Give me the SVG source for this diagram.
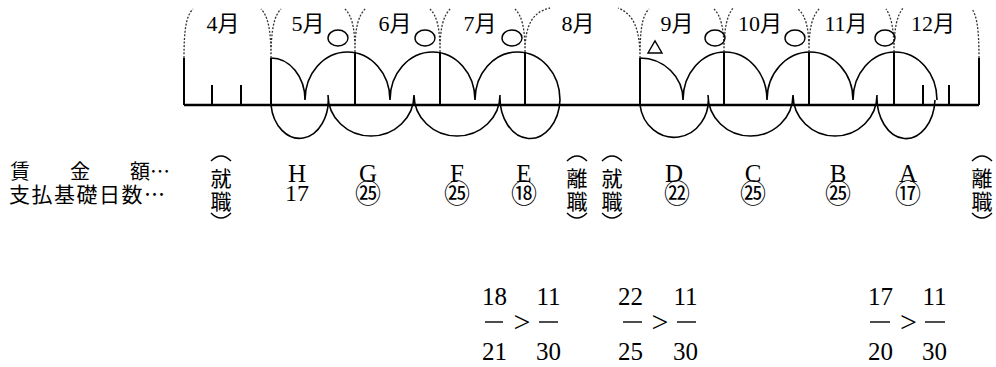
<svg xmlns="http://www.w3.org/2000/svg" width="996" height="367" viewBox="0 0 996 367">
<style>
.ln{stroke:#000;stroke-width:2;fill:none}
.base{stroke:#000;stroke-width:2.5;fill:none}
.arc{stroke:#000;stroke-width:1.6;fill:none}
.dot{stroke:#333;stroke-width:1.3;fill:none;stroke-dasharray:2 1.6}
.bar{stroke:#000;stroke-width:1.4}
.mark{stroke:#000;stroke-width:1.4;fill:none}
</style>

<g id="connectors">
  <path class="base" d="M184 105 H979"/>
  <path class="ln" d="M184 58 V105 M271 58 V105 M355 52 V105 M440 52 V105 M525 52 V105 M640 58 V105 M724 52 V105 M809 52 V105 M894 52 V105 M979 58 V105"/>
  <path class="ln" d="M212 85 V105 M241 85 V105 M923 85 V105 M949 85 V105"/>
  <path class="arc" d="M271 58 A34 42 0 0 1 305 100 M305 100 A42.5 48 0 0 1 390 100 M390 100 A42.5 48 0 0 1 475 100 M475 100 A42.5 48 0 0 1 560 100"/>
  <path class="arc" d="M271 105 A28.5 38 0 0 0 328 95 M328 95 A43 41 0 0 0 414 95 M414 95 A43 41 0 0 0 500 95 M500 95 A30 41 0 0 0 560 100"/>
  <path class="arc" d="M640 58 A43 42 0 0 1 683 100 M683 100 A42 48 0 0 1 767 100 M767 100 A43 48 0 0 1 853 100 M853 100 A42 48 0 0 1 937 100"/>
  <path class="arc" d="M640 105 A34 37 0 0 0 708 95 M708 95 A42.5 41 0 0 0 793 95 M793 95 A42 41 0 0 0 877 95 M877 95 A29 41 0 0 0 935 100"/>
  <path class="dot" d="M184 58 C184 30 186 16 193 9"/>
  <path class="dot" d="M271 58 C271 30 268 16 261 9 M271 58 C271 30 274 16 281 9"/>
  <path class="dot" d="M355 52 C355 28 352 16 345 9 M355 52 C355 28 358 16 366 8"/>
  <path class="dot" d="M440 52 C440 28 437 16 430 9 M440 52 C440 28 443 16 451 8"/>
  <path class="dot" d="M525 52 C525 28 522 16 515 9 M525 52 C525 26 532 12 550 8"/>
  <path class="dot" d="M640 58 C640 30 634 14 618 8 M640 58 C640 30 642 16 649 9"/>
  <path class="dot" d="M724 52 C724 28 721 16 714 9 M724 52 C724 28 727 16 733 8"/>
  <path class="dot" d="M809 52 C809 28 806 16 798 9 M809 52 C809 28 812 16 820 8"/>
  <path class="dot" d="M894 52 C894 28 891 16 886 9 M894 52 C894 28 897 16 903 8"/>
  <path class="dot" d="M979 58 C979 30 977 16 972 9"/>
</g>

<g id="months" font-family="'Liberation Serif','Noto Sans CJK JP',serif" font-size="22" fill="#000" text-anchor="middle">
  <text x="223" y="31">4月</text>
  <text x="308" y="31">5月</text>
  <text x="395" y="31">6月</text>
  <text x="480" y="31">7月</text>
  <text x="578" y="31">8月</text>
  <text x="677" y="31">9月</text>
  <text x="760" y="31">10月</text>
  <text x="846" y="31">11月</text>
  <text x="933" y="31">12月</text>
</g>

<g id="marks">
  <ellipse class="mark" cx="338" cy="38" rx="10" ry="8"/>
  <ellipse class="mark" cx="425" cy="38" rx="10" ry="8"/>
  <ellipse class="mark" cx="512" cy="38" rx="10" ry="8"/>
  <ellipse class="mark" cx="715" cy="38" rx="10" ry="8"/>
  <ellipse class="mark" cx="795" cy="38" rx="10" ry="8"/>
  <ellipse class="mark" cx="885" cy="38" rx="10" ry="8"/>
  <path class="mark" d="M648 53 L662 53 L655 41 Z"/>
</g>

<g id="row-labels" font-family="'Noto Sans CJK JP',sans-serif" font-size="20" fill="#000">
  <text x="10" y="179">賃　　金　　額…</text>
  <text x="9" y="202" font-size="21" textLength="156" lengthAdjust="spacing">支払基礎日数…</text>
</g>

<g id="wage-letters" font-family="'Liberation Serif',serif" font-size="25" fill="#000" text-anchor="middle">
  <text x="297" y="182">H</text>
  <text x="368" y="182">G</text>
  <text x="457" y="182">F</text>
  <text x="524" y="182">E</text>
  <text x="674" y="182">D</text>
  <text x="753" y="182">C</text>
  <text x="838" y="182">B</text>
  <text x="908" y="182">A</text>
</g>

<g id="days" fill="#000" text-anchor="middle">
  <text x="297" y="201" font-family="'Liberation Serif',serif" font-size="24">17</text>
  <g font-family="'Noto Sans CJK JP',sans-serif" font-size="26">
    <text x="368" y="203">㉕</text>
    <text x="457" y="203">㉕</text>
    <text x="524" y="203">⑱</text>
    <text x="677" y="203">㉒</text>
    <text x="753" y="203">㉕</text>
    <text x="838" y="203">㉕</text>
    <text x="908" y="203">⑰</text>
  </g>
</g>

<g id="job-events" font-family="'Noto Sans CJK JP',sans-serif" font-size="21" fill="#000" text-anchor="middle">
  <g id="join1">
    <path class="mark" d="M211 161 Q221 151 231 161"/>
    <text x="221" y="186">就</text>
    <text x="221" y="209">職</text>
    <path class="mark" d="M211 213 Q221 223 231 213"/>
  </g>
  <g id="leave1">
    <path class="mark" d="M567 161 Q577 151 587 161"/>
    <text x="577" y="186">離</text>
    <text x="577" y="209">職</text>
    <path class="mark" d="M567 213 Q577 223 587 213"/>
  </g>
  <g id="join2">
    <path class="mark" d="M602 161 Q612 151 622 161"/>
    <text x="612" y="186">就</text>
    <text x="612" y="209">職</text>
    <path class="mark" d="M602 213 Q612 223 622 213"/>
  </g>
  <g id="leave2">
    <path class="mark" d="M972 161 Q982 151 992 161"/>
    <text x="982" y="186">離</text>
    <text x="982" y="209">職</text>
    <path class="mark" d="M972 213 Q982 223 992 213"/>
  </g>
</g>

<g id="fractions" font-family="'Liberation Serif',serif" font-size="25" fill="#000" text-anchor="middle">
  <g id="frac1">
    <text x="494.5" y="305">18</text>
    <line class="bar" x1="485" y1="322" x2="503" y2="322"/>
    <text x="494.5" y="360">21</text>
    <text x="522" y="332" font-size="30">&gt;</text>
    <text x="548.5" y="305">11</text>
    <line class="bar" x1="539" y1="322" x2="558" y2="322"/>
    <text x="548.5" y="360">30</text>
  </g>
  <g id="frac2">
    <text x="630.5" y="305">22</text>
    <line class="bar" x1="623" y1="322" x2="642" y2="322"/>
    <text x="630.5" y="360">25</text>
    <text x="660" y="332" font-size="30">&gt;</text>
    <text x="685.5" y="305">11</text>
    <line class="bar" x1="677" y1="322" x2="696" y2="322"/>
    <text x="685.5" y="360">30</text>
  </g>
  <g id="frac3">
    <text x="880.5" y="305">17</text>
    <line class="bar" x1="870" y1="322" x2="890" y2="322"/>
    <text x="880.5" y="360">20</text>
    <text x="908.5" y="332" font-size="30">&gt;</text>
    <text x="934.5" y="305">11</text>
    <line class="bar" x1="925" y1="322" x2="945" y2="322"/>
    <text x="934.5" y="360">30</text>
  </g>
</g>
</svg>
